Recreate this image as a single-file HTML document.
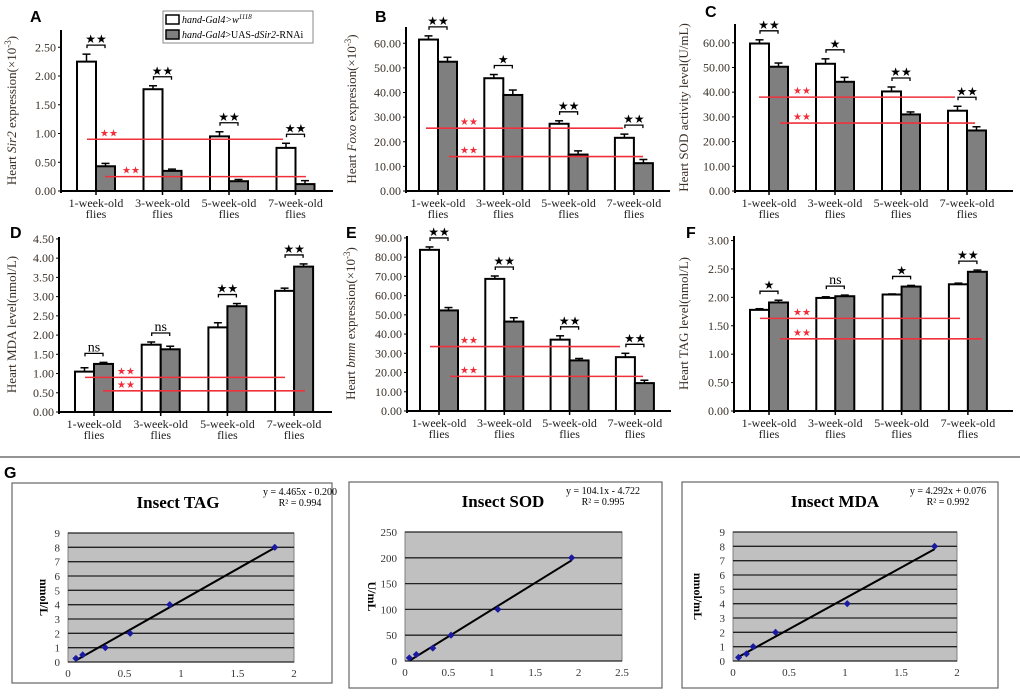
<!DOCTYPE html>
<html><head><meta charset="utf-8"><style>
html,body{margin:0;padding:0;background:#fff;}
svg{display:block;font-family:"Liberation Serif",serif;}
</style></head><body>
<svg id="fig" width="1020" height="696" viewBox="0 0 1020 696" xmlns="http://www.w3.org/2000/svg">
<rect x="0" y="0" width="1020" height="696" fill="#fff"/>
<line x1="0" y1="457" x2="1020" y2="457" stroke="#555" stroke-width="1.2"/>
</svg>
<script>
// ---- Data ----
const categories = ["1-week-old", "3-week-old", "5-week-old", "7-week-old"];
const aWhite = [2.25, 1.77, 0.95, 0.75], aWhiteErr = [0.13, 0.06, 0.08, 0.08];
const aGray = [0.43, 0.35, 0.17, 0.12], aGrayErr = [0.05, 0.03, 0.03, 0.06];
const aSig = ["**", "**", "**", "**"], aRef = [0.9, 0.25], aTicks = [0, 0.5, 1, 1.5, 2, 2.5];
const bWhite = [61.5, 45.8, 27.3, 21.6], bWhiteErr = [1.5, 1.5, 1.2, 1.5];
const bGray = [52.5, 39, 14.8, 11.3], bGrayErr = [1.8, 2, 1.5, 1.5];
const bSig = ["**", "*", "**", "**"], bRef = [25.5, 14], bTicks = [0, 10, 20, 30, 40, 50, 60];
const cWhite = [59.7, 51.5, 40.3, 32.5], cWhiteErr = [1.5, 2, 1.8, 1.8];
const cGray = [50.3, 44.2, 31, 24.5], cGrayErr = [1.5, 1.8, 1, 1.5];
const cSig = ["**", "*", "**", "**"], cRef = [38, 27.5], cTicks = [0, 10, 20, 30, 40, 50, 60];
const dWhite = [1.05, 1.75, 2.2, 3.15], dWhiteErr = [0.1, 0.07, 0.12, 0.07];
const dGray = [1.25, 1.63, 2.75, 3.78], dGrayErr = [0.04, 0.08, 0.07, 0.07];
const dSig = ["ns", "ns", "**", "**"], dRef = [0.9, 0.55], dTicks = [0, 0.5, 1, 1.5, 2, 2.5, 3, 3.5, 4, 4.5];
const eWhite = [83.8, 68.7, 37.1, 28], eWhiteErr = [1.5, 1.5, 2, 2];
const eGray = [52.3, 46.5, 26.3, 14.5], eGrayErr = [1.5, 2, 1, 1.5];
const eSig = ["**", "**", "**", "**"], eRef = [33.5, 18], eTicks = [0, 10, 20, 30, 40, 50, 60, 70, 80, 90];
const fWhite = [1.78, 1.99, 2.05, 2.23], fWhiteErr = [0.02, 0.02, 0.01, 0.02];
const fGray = [1.91, 2.02, 2.19, 2.45], fGrayErr = [0.04, 0.02, 0.02, 0.03];
const fSig = ["*", "ns", "*", "**"], fRef = [1.63, 1.27], fTicks = [0, 0.5, 1, 1.5, 2, 2.5, 3];
const tagX = [0.07, 0.13, 0.33, 0.55, 0.9, 1.83], tagY = [0.25, 0.5, 1, 2, 4, 8];
const sodX = [0.05, 0.13, 0.32, 0.53, 1.07, 1.92], sodY = [6, 12.5, 25, 50, 100, 200];
const mdaX = [0.05, 0.12, 0.18, 0.38, 1.02, 1.8], mdaY = [0.25, 0.5, 1, 2, 4, 8];
const tagFit = [4.465, -0.2], sodFit = [104.1, -4.722], mdaFit = [4.292, 0.076];

const NS = "http://www.w3.org/2000/svg";
const svg = document.getElementById("fig");
function el(tag, attrs, parent, txt) {
  const e = document.createElementNS(NS, tag);
  for (const k in attrs) e.setAttribute(k, attrs[k]);
  if (txt !== undefined) e.textContent = txt;
  (parent || svg).appendChild(e);
  return e;
}

function barPanel(cfg, white, whiteErr, gray, grayErr, sig, refs, ticks) {
  const g = el("g", {});
  
  
  const ymax = cfg.ymax;
  const y = v => cfg.y0 - (v / ymax) * (cfg.y0 - cfg.yTop);
  const x = i => cfg.c0 + i * cfg.step;
  const bw = 19;
  const letter = el("text", {x: cfg.lx, y: cfg.ly, "font-family": "Liberation Sans, sans-serif", "font-weight": "bold", "font-size": 16, fill: "#000"}, g, cfg.letter);
  
  
  ticks.forEach(t => {
    const tl = el("text", {x: cfg.ax - 5, y: y(t) + 4, "text-anchor": "end", "font-size": 12, fill: "#3a3028"}, g, t.toFixed(2));
    
    
    el("line", {x1: cfg.ax - 3, x2: cfg.ax, y1: y(t), y2: y(t), stroke: "#000", "stroke-width": 1}, g);
  });
  const ya = el("line", {x1: cfg.ax, x2: cfg.ax, y1: cfg.yTop, y2: cfg.y0 + 2, stroke: "#000", "stroke-width": 2}, g);
  
  
  const tt = el("text", {x: 0, y: 0, "text-anchor": "middle", "font-size": 13, fill: "#3a3028", transform: `translate(${cfg.tx},${(cfg.yTop + cfg.y0) / 2}) rotate(-90)`}, g);
  tt.innerHTML = cfg.title;
  
  
  categories.forEach((c, i) => {
    const cx = x(i);
    const wv = white[i], gv = gray[i];
    const r1 = el("rect", {x: cx - bw, y: y(wv), width: bw, height: cfg.y0 - y(wv), fill: "#fff", stroke: "#000", "stroke-width": 2}, g);
    
    
    const r2 = el("rect", {x: cx, y: y(gv), width: bw, height: cfg.y0 - y(gv), fill: "#7f7f7f", stroke: "#000", "stroke-width": 2}, g);
    
    
    [[cx - bw / 2, wv, whiteErr[i]], [cx + bw / 2, gv, grayErr[i]]].forEach(([ex, v, e]) => {
      el("line", {x1: ex, x2: ex, y1: y(v), y2: y(v + e), stroke: "#000", "stroke-width": 1.5}, g);
      el("line", {x1: ex - 4, x2: ex + 4, y1: y(v + e), y2: y(v + e), stroke: "#000", "stroke-width": 1.5}, g);
    });
    const top = Math.min(y(wv + whiteErr[i]), y(gv + grayErr[i])) - 9;
    el("path", {d: `M${cx - 9},${top + 3} L${cx - 9},${top} L${cx + 9},${top} L${cx + 9},${top + 3}`, fill: "none", stroke: "#000", "stroke-width": 1.3}, g);
    const st = el("text", {x: cx, y: top - 2, "text-anchor": "middle", "font-size": sig[i] === "ns" ? 14 : 12, fill: "#000"}, g, sig[i] === "ns" ? "ns" : sig[i].replace(/\*/g, "★"));
    
    
    el("line", {x1: cx, x2: cx, y1: cfg.y0, y2: cfg.y0 + 4, stroke: "#000", "stroke-width": 1.5}, g);
    const l1 = el("text", {x: cx, y: cfg.y0 + 16, "text-anchor": "middle", "font-size": 12, fill: "#222"}, g, c);
    
    
    el("text", {x: cx, y: cfg.y0 + 27, "text-anchor": "middle", "font-size": 12, fill: "#222"}, g, "flies");
  });
  const xa = el("line", {x1: cfg.ax - 1, x2: cfg.xEnd, y1: cfg.y0, y2: cfg.y0, stroke: "#000", "stroke-width": 2}, g);
  
  
  refs.forEach((v, k) => {
    const r = cfg.refs[k];
    const rl = el("line", {x1: r[0], x2: r[1], y1: y(v), y2: y(v), stroke: "#f0303a", "stroke-width": 1.6}, g);
    
    
    el("text", {x: r[2], y: y(v) - 3, "font-size": 10, fill: "#f0303a"}, g, "★★");
  });
}

barPanel({name: "panel-a", letter: "A", lx: 30, ly: 22, ax: 61, y0: 191, yTop: 30, ymax: 2.8, c0: 96, step: 66.5, xEnd: 333, tx: 16, refs: [[87, 283, 100], [105, 306, 122]], title: 'Heart <tspan font-style="italic">Sir2</tspan> expression(×10<tspan dy="-5" font-size="9">-3</tspan><tspan dy="5">)</tspan>'}, aWhite, aWhiteErr, aGray, aGrayErr, aSig, aRef, aTicks);
barPanel({name: "panel-b", letter: "B", lx: 375, ly: 22, ax: 406, y0: 191, yTop: 27, ymax: 66.6, c0: 438, step: 65.3, xEnd: 670, tx: 356, refs: [[426, 623, 460], [449, 643, 460]], title: 'Heart <tspan font-style="italic">Foxo</tspan> expresion(×10<tspan dy="-5" font-size="9">-3</tspan><tspan dy="5">)</tspan>'}, bWhite, bWhiteErr, bGray, bGrayErr, bSig, bRef, bTicks);
barPanel({name: "panel-c", letter: "C", lx: 705, ly: 17, ax: 735, y0: 191, yTop: 24, ymax: 67.6, c0: 769, step: 66, xEnd: 1013, tx: 688, refs: [[759, 955, 793], [780, 975, 793]], title: 'Heart SOD activity level(U/mL)'}, cWhite, cWhiteErr, cGray, cGrayErr, cSig, cRef, cTicks);
barPanel({name: "panel-d", letter: "D", lx: 10, ly: 238, ax: 59, y0: 412, yTop: 237, ymax: 4.55, c0: 94, step: 66.7, xEnd: 332, tx: 16, refs: [[85, 285, 117], [103, 305, 117]], title: 'Heart MDA level(nmol/L)'}, dWhite, dWhiteErr, dGray, dGrayErr, dSig, dRef, dTicks);
barPanel({name: "panel-e", letter: "E", lx: 346, ly: 238, ax: 407, y0: 411, yTop: 236, ymax: 91, c0: 439, step: 65.3, xEnd: 671, tx: 355, refs: [[430, 620, 460], [450, 643, 460]], title: 'Heart <tspan font-style="italic">bmm</tspan> expression(×10<tspan dy="-5" font-size="9">-3</tspan><tspan dy="5">)</tspan>'}, eWhite, eWhiteErr, eGray, eGrayErr, eSig, eRef, eTicks);
barPanel({name: "panel-f", letter: "F", lx: 686, ly: 238, ax: 734, y0: 411, yTop: 236, ymax: 3.08, c0: 769, step: 66.3, xEnd: 1013, tx: 688, refs: [[760, 960, 793], [780, 982, 793]], title: 'Heart TAG level(nmol/L)'}, fWhite, fWhiteErr, fGray, fGrayErr, fSig, fRef, fTicks);

(function () {
  const g = el("g", {});
  
  
  el("rect", {x: 163, y: 11, width: 150, height: 32, fill: "#fff", stroke: "#888", "stroke-width": 1}, g);
  el("rect", {x: 166, y: 15, width: 13, height: 9, fill: "#fff", stroke: "#000", "stroke-width": 1.5}, g);
  el("rect", {x: 166, y: 30, width: 13, height: 9, fill: "#7f7f7f", stroke: "#000", "stroke-width": 1.5}, g);
  const t1 = el("text", {x: 182, y: 23, "font-size": 10, "font-style": "italic"}, g);
  t1.innerHTML = 'hand-Gal4&gt;w<tspan dy="-4" font-size="7">1118</tspan>';
  
  
  const t2 = el("text", {x: 182, y: 38, "font-size": 10}, g);
  t2.innerHTML = '<tspan font-style="italic">hand-Gal4</tspan>&gt;UAS-<tspan font-style="italic">dSir2</tspan>-RNAi';
  
  
})();

const gl = el("text", {x: 4, y: 478, "font-family": "Liberation Sans, sans-serif", "font-weight": "bold", "font-size": 16}, svg, "G");



function scatterPanel(cfg, xs, ys, fit) {
  const g = el("g", {});
  
  
  el("rect", {x: cfg.bx, y: cfg.by, width: cfg.bw, height: cfg.bh, fill: "#fff", stroke: "#666", "stroke-width": 1.2}, g);
  const X = v => cfg.px0 + (v / cfg.xmax) * (cfg.px1 - cfg.px0);
  const Y = v => cfg.py1 - (v / cfg.ymax) * (cfg.py1 - cfg.py0);
  el("rect", {x: cfg.px0, y: cfg.py0, width: cfg.px1 - cfg.px0, height: cfg.py1 - cfg.py0, fill: "#c0c0c0", stroke: "#808080", "stroke-width": 1}, g);
  for (let v = 0; v <= cfg.ymax + 1e-9; v += cfg.ystep) {
    el("line", {x1: cfg.px0, x2: cfg.px1, y1: Y(v), y2: Y(v), stroke: "#222", "stroke-width": 1.3}, g);
    const tl = el("text", {x: cfg.px0 - 8, y: Y(v) + 4, "text-anchor": "end", "font-size": 11, fill: "#333"}, g, String(v));
    
    
  }
  for (let v = 0; v <= cfg.xmax + 1e-9; v += 0.5) {
    const tl = el("text", {x: X(v), y: cfg.py1 + 15, "text-anchor": "middle", "font-size": 11, fill: "#333"}, g, String(v));
    
    
  }
  const x0 = Math.min(...xs), x1 = Math.max(...xs);
  const fl = el("line", {x1: X(x0), y1: Y(fit[0] * x0 + fit[1]), x2: X(x1), y2: Y(fit[0] * x1 + fit[1]), stroke: "#000", "stroke-width": 2}, g);
  
  
  xs.forEach((xv, i) => {
    const p = el("rect", {x: X(xv) - 2.5, y: Y(ys[i]) - 2.5, width: 5, height: 5, fill: "#1a1aa0", transform: `rotate(45 ${X(xv)} ${Y(ys[i])})`}, g);
    
    
  });
  const t = el("text", {x: cfg.tcx, y: cfg.by + 25, "text-anchor": "middle", "font-size": 17, "font-weight": "bold"}, g, cfg.title);
  
  
  const eq = el("text", {x: cfg.ex, y: cfg.by + 12, "text-anchor": "middle", "font-size": 10}, g, cfg.eq);
  
  
  el("text", {x: cfg.ex, y: cfg.by + 23, "text-anchor": "middle", "font-size": 10}, g, cfg.r2);
  const yt = el("text", {x: 0, y: 0, "text-anchor": "middle", "font-size": 12, "font-weight": "bold", transform: `translate(${cfg.ytx},${(cfg.py0 + cfg.py1) / 2}) rotate(90)`}, g, cfg.ytitle);
  
  
}
scatterPanel({name: "insect-tag-chart", bx: 12, by: 483, bw: 320, bh: 200, px0: 68, px1: 294, py0: 533, py1: 662, xmax: 2, ymax: 9, ystep: 1, tcx: 178, ex: 300, ytx: 40, title: "Insect TAG", eq: "y = 4.465x - 0.200", r2: "R² = 0.994", ytitle: "nmol/L"}, tagX, tagY, tagFit);
scatterPanel({name: "insect-sod-chart", bx: 349, by: 482, bw: 313, bh: 206, px0: 405, px1: 622, py0: 532, py1: 661, xmax: 2.5, ymax: 250, ystep: 50, tcx: 503, ex: 603, ytx: 368, title: "Insect SOD", eq: "y = 104.1x - 4.722", r2: "R² = 0.995", ytitle: "U/mL"}, sodX, sodY, sodFit);
scatterPanel({name: "insect-mda-chart", bx: 682, by: 482, bw: 316, bh: 206, px0: 733, px1: 957, py0: 532, py1: 661, xmax: 2, ymax: 9, ystep: 1, tcx: 835, ex: 948, ytx: 694, title: "Insect MDA", eq: "y = 4.292x + 0.076", r2: "R² = 0.992", ytitle: "nmol/mL"}, mdaX, mdaY, mdaFit);
</script>
</body></html>
